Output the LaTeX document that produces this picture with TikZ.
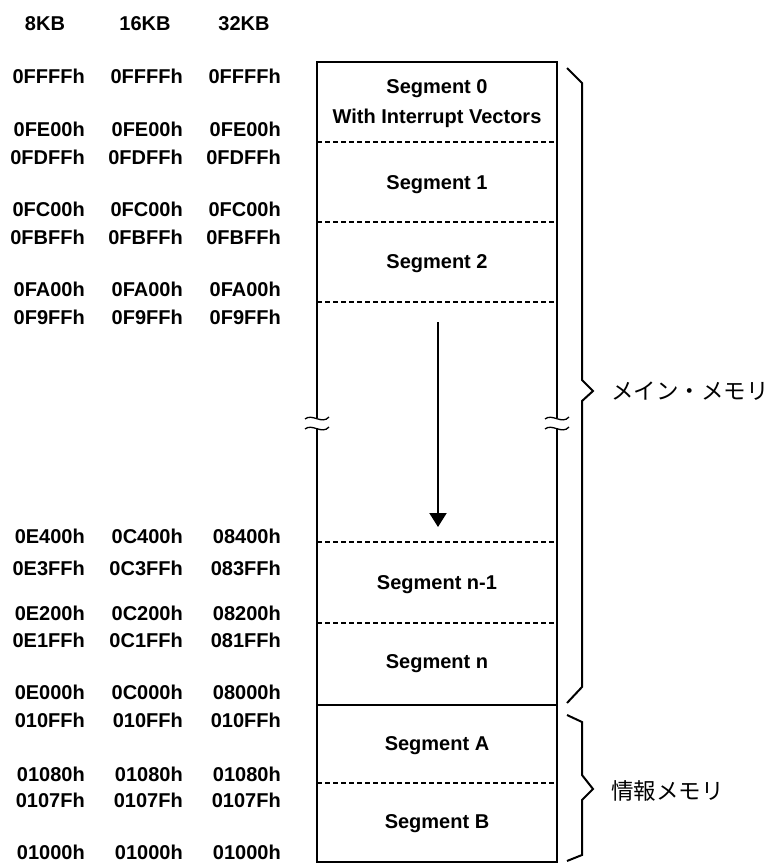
\documentclass[tikz,border=0pt]{standalone}
\usepackage{fontspec}
\setmainfont{Liberation Sans}
\newfontfamily\jpfont{Noto Sans CJK JP}
\usetikzlibrary{arrows.meta}
\begin{document}
\begin{tikzpicture}[x=1pt,y=-1pt,
  addr/.style={anchor=east,inner sep=0pt,font=\fontsize{20}{20}\selectfont\bfseries},
  hdr/.style={inner sep=0pt,font=\fontsize{20}{20}\selectfont\bfseries},
  seglabel/.style={inner sep=0pt,font=\fontsize{20}{20}\selectfont\bfseries},
  wall/.style={line width=2pt},
  sepline/.style={line width=1.5pt,dash pattern=on 5pt off 3pt},
  bracestyle/.style={line width=2pt,line join=miter},
  breakmark/.style={line width=1.3pt},
  jp/.style={anchor=west,inner sep=0pt,font=\fontsize{22.5}{22.5}\selectfont\jpfont}]
\useasboundingbox (0,0) rectangle (771,864);

% headers
\node[hdr] (h1) at (45,24) {8KB};
\node[hdr] (h2) at (145,24) {16KB};
\node[hdr] (h3) at (244,24) {32KB};

% address labels
\foreach \y/\a/\b/\c [count=\i] in {
  76/0FFFFh/0FFFFh/0FFFFh,
  129/0FE00h/0FE00h/0FE00h,
  157/0FDFFh/0FDFFh/0FDFFh,
  209/0FC00h/0FC00h/0FC00h,
  237/0FBFFh/0FBFFh/0FBFFh,
  289/0FA00h/0FA00h/0FA00h,
  317/0F9FFh/0F9FFh/0F9FFh,
  536/0E400h/0C400h/08400h,
  568/0E3FFh/0C3FFh/083FFh,
  613/0E200h/0C200h/08200h,
  640/0E1FFh/0C1FFh/081FFh,
  692/0E000h/0C000h/08000h,
  720/010FFh/010FFh/010FFh,
  774/01080h/01080h/01080h,
  800/0107Fh/0107Fh/0107Fh,
  852/01000h/01000h/01000h}{
  \node[addr] (a\i) at (85,\y) {\a};
  \node[addr] (b\i) at (183,\y) {\b};
  \node[addr] (c\i) at (281,\y) {\c};
}

% box corners
\coordinate (tl) at (317,62);
\coordinate (tr) at (557,62);
\coordinate (bl) at (317,862);
\coordinate (br) at (557,862);
\coordinate (lb1) at (317,418);
\coordinate (lb2) at (317,428);
\coordinate (rb1) at (557,418);
\coordinate (rb2) at (557,428);

\draw[wall] (lb1) -- (tl) -- (tr) -- (rb1);
\draw[wall] (lb2) -- (bl) -- (br) -- (rb2);

% break marks
\foreach \xx in {317,557}{
  \draw[breakmark] (\xx-12,419) .. controls (\xx-5,413) and (\xx+5,425) .. (\xx+12,417);
  \draw[breakmark] (\xx-12,429) .. controls (\xx-5,423) and (\xx+5,435) .. (\xx+12,427);
}

% separators
\coordinate (s1l) at (317,142); \coordinate (s1r) at (557,142);
\coordinate (s2l) at (317,222); \coordinate (s2r) at (557,222);
\coordinate (s3l) at (317,302); \coordinate (s3r) at (557,302);
\coordinate (s4l) at (317,542); \coordinate (s4r) at (557,542);
\coordinate (s5l) at (317,623); \coordinate (s5r) at (557,623);
\coordinate (s6l) at (317,705); \coordinate (s6r) at (557,705);
\coordinate (s7l) at (317,783); \coordinate (s7r) at (557,783);
\draw[sepline] (s1l) -- (s1r);
\draw[sepline] (s2l) -- (s2r);
\draw[sepline] (s3l) -- (s3r);
\draw[sepline] (s4l) -- (s4r);
\draw[sepline] (s5l) -- (s5r);
\draw[wall] (s6l) -- (s6r);
\draw[sepline] (s7l) -- (s7r);

% segment labels
\node[seglabel] (seg0) at (437,89) {Segment 0};
\node[seglabel] (seg0b) at (437,118) {With Interrupt Vectors};
\node[seglabel] (seg1) at (437,185) {Segment 1};
\node[seglabel] (seg2) at (437,264) {Segment 2};
\node[seglabel] (segn1) at (437,585) {Segment n-1};
\node[seglabel] (segn) at (437,664) {Segment n};
\node[seglabel] (segA) at (437,746) {Segment A};
\node[seglabel] (segB) at (437,824) {Segment B};

% arrow
\coordinate (ar1) at (438,322);
\coordinate (ar2) at (438,527);
\draw[line width=2pt,-{Triangle[width=17pt,length=14pt]}] (ar1) -- (ar2);

% braces
\draw[bracestyle] (567,68) -- (582,83) -- (582,380) -- (593,391) -- (582,401) -- (582,687) -- (567,703);
\draw[bracestyle] (567,715) -- (582,722) -- (582,775) -- (593,789) -- (582,800) -- (582,855) -- (567,861);

\node[jp] (mainmem) at (611,391) {メイン・メモリ};
\node[jp] (infomem) at (611,791) {情報メモリ};
\end{tikzpicture}
\end{document}
